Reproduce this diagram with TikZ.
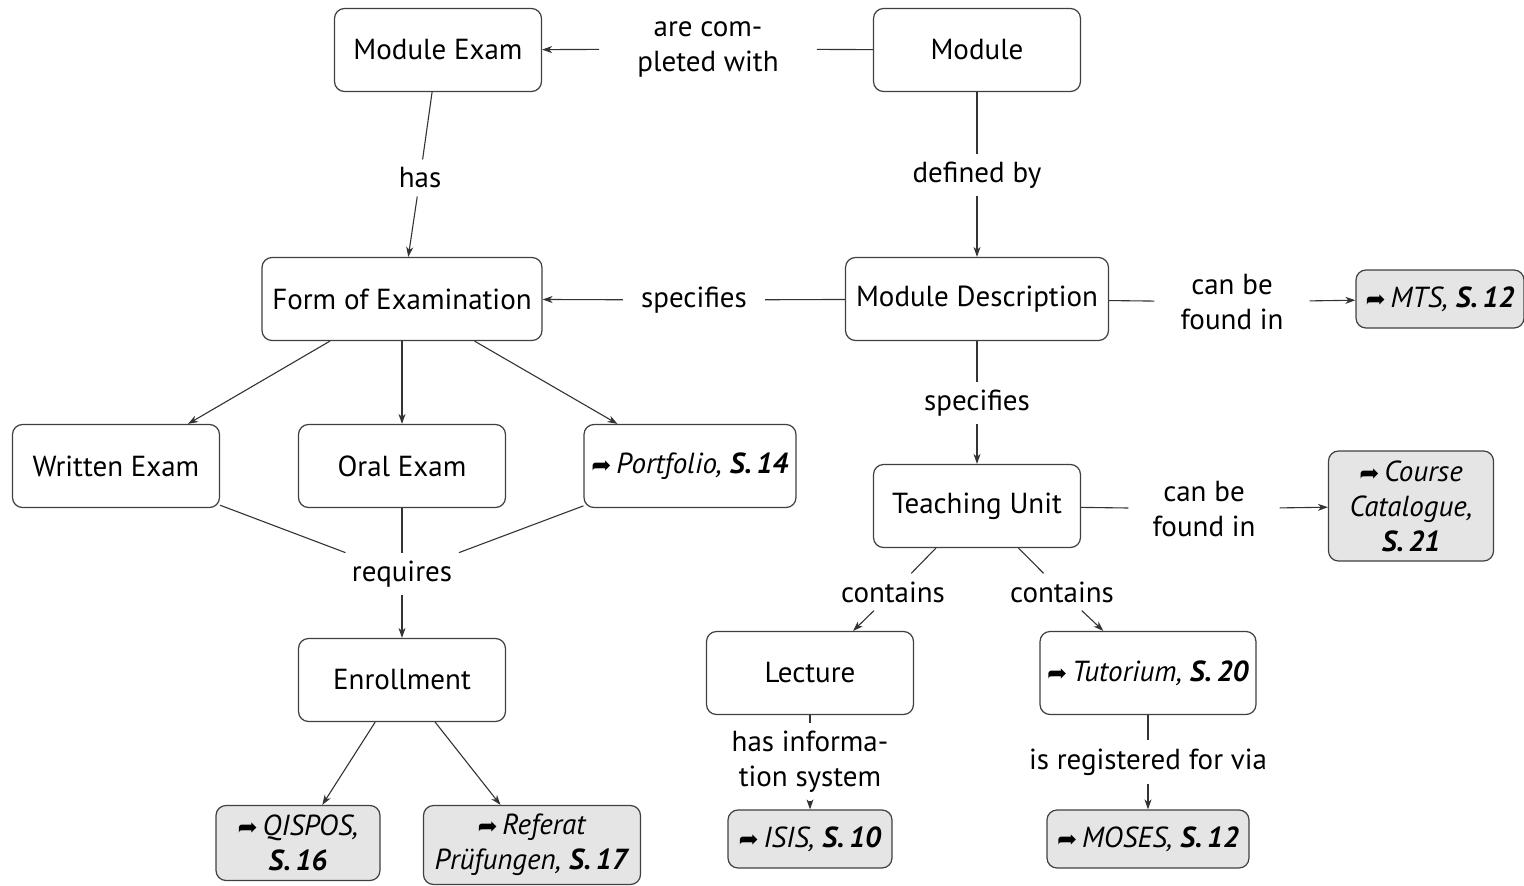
\documentclass[tikz,border=0pt]{standalone}
\usepackage{fontspec}
\setmainfont{PT Sans}
\newfontfamily\symfont{DejaVu Sans}
\usetikzlibrary{arrows.meta}
\newcommand{\refarr}{{\symfont\upshape\fontsize{24}{35}\selectfont ➦}\,}
\begin{document}
\begin{tikzpicture}[x=1pt,y=-1pt,
  every node/.style={font=\fontsize{29}{35}\selectfont},
  box/.style={draw=black!75, line width=1.2pt, rounded corners=10pt, fill=white,
    minimum width=207pt, minimum height=83pt, inner sep=0pt, align=center},
  refbox/.style={box, fill=black!10},
  lbl/.style={align=center, inner xsep=18pt, inner ysep=8pt},
  ln/.style={draw=black!80, line width=1.1pt},
  arr/.style={ln, -{Stealth[length=10pt,width=7pt,inset=3pt]}},
]
\useasboundingbox (0,0) rectangle (1524,886);

% concepts
\node[box] (mexam) at (438,50) {Module Exam};
\node[box] (module) at (977,50) {Module};
\node[box, minimum width=280pt] (form) at (402,299) {Form of Examination};
\node[box, minimum width=263pt] (mdesc) at (977,299) {Module Description};
\node[refbox, minimum width=168pt, minimum height=58pt] (mts) at (1440,299) {\refarr\textit{MTS, \textbf{S.\,12}}};
\node[box] (teach) at (977,506) {Teaching Unit};
\node[refbox, minimum width=165pt, minimum height=110pt] (cat) at (1411,506) {\refarr\textit{Course}\\\textit{Catalogue,}\\\textit{\textbf{S.\,21}}};
\node[box] (written) at (116,466) {Written Exam};
\node[box] (oral) at (402,466) {Oral Exam};
\node[box, minimum width=212pt] (port) at (690,466) {\refarr\textit{Portfolio, \textbf{S.\,14}}};
\node[box] (enroll) at (402,680) {Enrollment};
\node[refbox, minimum width=164pt, minimum height=75pt] (qis) at (298,843) {\refarr\textit{QISPOS,}\\\textit{\textbf{S.\,16}}};
\node[refbox, minimum width=217pt, minimum height=79pt] (referat) at (532,845) {\refarr\textit{Referat}\\\textit{Prüfungen, \textbf{S.\,17}}};
\node[box] (lecture) at (810,673) {Lecture};
\node[box, minimum width=216pt] (tut) at (1148,673) {\refarr\textit{Tutorium, \textbf{S.\,20}}};
\node[refbox, minimum width=164pt, minimum height=58pt] (isis) at (810,839) {\refarr\textit{ISIS, \textbf{S.\,10}}};
\node[refbox, minimum width=202pt, minimum height=58pt] (moses) at (1148,839) {\refarr\textit{MOSES, \textbf{S.\,12}}};

% linking phrases
\node[lbl, inner xsep=38pt] (lcomp) at (708,49) {are com-\\pleted with};
\node[lbl] (lhas) at (420,178) {has};
\node[lbl] (ldef) at (977,175) {defined by};
\node[lbl] (lspec1) at (694,300) {specifies};
\node[lbl, inner xsep=26pt] (lfound1) at (1232,302) {can be\\found in};
\node[lbl] (lspec2) at (977,403) {specifies};
\node[lbl, inner xsep=24pt] (lfound2) at (1204,509) {can be\\found in};
\node[lbl] (lreq) at (402,574) {requires};
\node[lbl] (lcont1) at (893,592) {contains};
\node[lbl] (lcont2) at (1062,592) {contains};
\node[lbl] (linfo) at (810,762) {has informa-\\tion system};
\node[lbl] (lreg) at (1148,762) {is registered for via};

% connectors
\draw[ln] (module) -- (lcomp); \draw[arr] (lcomp) -- (mexam);
\draw[ln] (mexam) -- (lhas); \draw[arr] (lhas) -- (form);
\draw[ln] (module) -- (ldef); \draw[arr] (ldef) -- (mdesc);
\draw[ln] (mdesc) -- (lspec1); \draw[arr] (lspec1) -- (form);
\draw[ln] (mdesc) -- (lfound1); \draw[arr] (lfound1) -- (mts);
\draw[ln] (mdesc) -- (lspec2); \draw[arr] (lspec2) -- (teach);
\draw[ln] (teach) -- (lfound2); \draw[arr] (lfound2) -- (cat);
\draw[arr] (form) -- (written);
\draw[arr] (form) -- (oral);
\draw[arr] (form) -- (port);
\draw[ln] (written) -- (lreq);
\draw[ln] (oral) -- (lreq);
\draw[ln] (port) -- (lreq);
\draw[arr] (lreq) -- (enroll);
\draw[arr] (enroll) -- (qis);
\draw[arr] (enroll) -- (referat);
\draw[ln] (teach) -- (lcont1); \draw[arr] (lcont1) -- (lecture);
\draw[ln] (teach) -- (lcont2); \draw[arr] (lcont2) -- (tut);
\draw[ln] (lecture) -- (linfo); \draw[arr] (linfo) -- (isis);
\draw[ln] (tut) -- (lreg); \draw[arr] (lreg) -- (moses);
\end{tikzpicture}
\end{document}
